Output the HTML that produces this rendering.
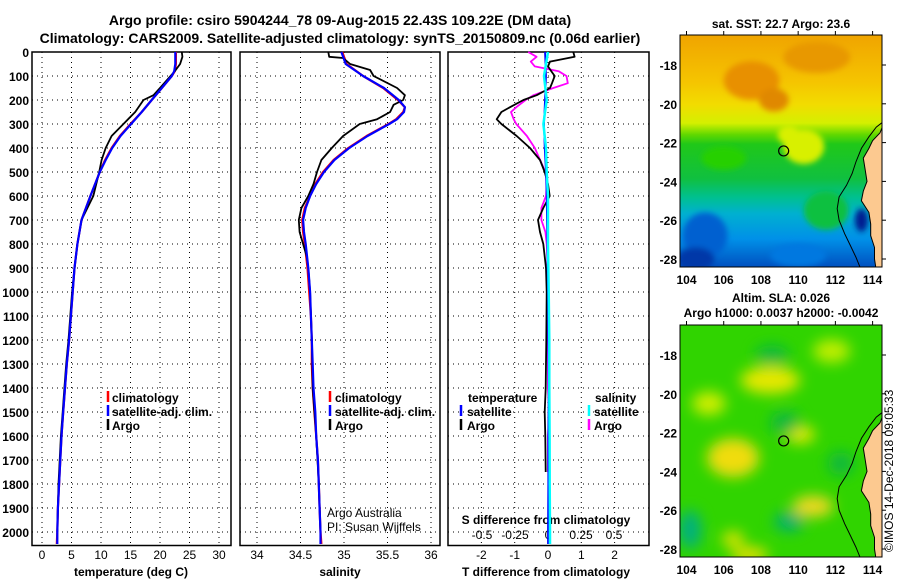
<!DOCTYPE html>
<html><head><meta charset="utf-8">
<style>
html,body{margin:0;padding:0;background:#fff;}
svg{display:block;font-family:"Liberation Sans",sans-serif;font-weight:bold;}
</style></head>
<body>
<svg id="fig" width="900" height="580" viewBox="0 0 900 580" xmlns="http://www.w3.org/2000/svg">
<defs>
<filter id="blur6" x="-50%" y="-50%" width="200%" height="200%"><feGaussianBlur stdDeviation="7"/></filter>
<filter id="blur3" x="-50%" y="-50%" width="200%" height="200%"><feGaussianBlur stdDeviation="3"/></filter>
<clipPath id="clipTop"><rect x="680" y="35" width="202" height="232"/></clipPath>
<clipPath id="clipBot"><rect x="680" y="325" width="202" height="232"/></clipPath>
<linearGradient id="sstGrad" x1="0" y1="0" x2="0" y2="1">
<stop offset="0" stop-color="#f0a400"/>
<stop offset="0.2" stop-color="#f5c400"/>
<stop offset="0.3" stop-color="#f2dc00"/>
<stop offset="0.38" stop-color="#d4f000"/>
<stop offset="0.43" stop-color="#60d800"/>
<stop offset="0.47" stop-color="#20c818"/>
<stop offset="0.62" stop-color="#10c040"/>
<stop offset="0.7" stop-color="#00c090"/>
<stop offset="0.77" stop-color="#00b0d0"/>
<stop offset="0.88" stop-color="#0090e8"/>
<stop offset="1" stop-color="#0050c0"/>
</linearGradient>
</defs>
<text x="340" y="25" text-anchor="middle" font-size="14">Argo profile: csiro 5904244_78 09-Aug-2015 22.43S 109.22E (DM data)</text>
<text x="340" y="43" text-anchor="middle" font-size="14">Climatology: CARS2009. Satellite-adjusted climatology: synTS_20150809.nc (0.06d earlier)</text>
<g id="plots"></g>
<g id="maps"></g>
<text transform="translate(893,552) rotate(-90)" font-size="12" font-weight="normal">©IMOS 14-Dec-2018 09:05:33</text>
</svg>
<script>
// ---- data ----
const depthsT = [0,20,50,80,100,150,200,250,300,350,400,450,500,600,700,800,900,1000,1100,1200,1300,1400,1500,1600,1700,1800,1900,2000,2050];
const climTemp = [22.7,22.7,22.7,22.5,22.0,20.3,18.6,16.9,15.0,13.2,11.8,10.7,9.8,8.2,6.7,6.0,5.5,5.2,4.9,4.6,4.2,3.9,3.6,3.3,3.1,2.9,2.7,2.6,2.5];
const satTemp  = [22.6,22.6,22.6,22.4,22.0,20.3,18.6,16.9,15.1,13.3,11.9,10.8,9.8,8.2,6.7,6.0,5.5,5.2,4.9,4.6,4.2,3.9,3.6,3.3,3.1,2.9,2.7,2.6,2.6];
const depthsArgo = [0,20,50,80,100,150,180,200,250,300,350,400,450,500,600,700,800,900,1000,1100,1200,1300,1400,1500,1600,1700,1800,1900,2000];
const argoTemp = [23.7,23.8,23.4,22.5,21.8,20.0,18.9,17.2,15.8,13.8,11.8,10.8,10.1,9.7,8.7,6.7,6.0,5.5,5.1,4.8,4.5,4.1,3.8,3.5,3.2,3.0,2.8,2.7,2.6];
const depthsS = [0,50,100,150,200,230,250,280,300,350,400,450,500,550,600,650,700,750,800,900,1000,1100,1200,1300,1400,1500,1600,1700,1800,1900,2000,2050];
const climSal = [34.98,35.03,35.22,35.45,35.62,35.70,35.68,35.60,35.51,35.26,35.05,34.88,34.76,34.67,34.61,34.55,34.52,34.53,34.55,34.58,34.60,34.62,34.63,34.63,34.64,34.66,34.68,34.70,34.71,34.72,34.73,34.74];
const satSal  = [34.97,35.02,35.22,35.46,35.63,35.70,35.69,35.61,35.52,35.27,35.06,34.89,34.77,34.68,34.61,34.56,34.53,34.54,34.56,34.59,34.61,34.62,34.63,34.64,34.65,34.67,34.68,34.70,34.71,34.72,34.73,34.73];
const depthsSA = [0,20,25,50,75,100,150,180,200,220,250,280,300,350,400,450,500,550,600,650,700,750,800,850,900,1000,1200,1400,1600,1800,2000];
const argoSal = [34.82,34.83,34.99,35.07,35.30,35.34,35.61,35.70,35.68,35.57,35.53,35.38,35.18,34.99,34.86,34.74,34.69,34.65,34.59,34.51,34.48,34.49,34.53,34.57,34.59,34.61,34.63,34.64,34.68,34.71,34.73];
const depthsD = [0,20,40,60,80,100,130,150,180,200,230,250,280,300,350,400,450,500,550,600,650,700,750,800,900,1000,1200,1400,1500,1600,1750];
const argoTdiff = [0.76,0.8,0.06,0.0,0.1,0.2,0.12,0.06,-0.34,-0.74,-1.14,-1.4,-1.54,-1.4,-0.94,-0.54,-0.24,-0.1,0.0,0.05,-0.14,-0.3,-0.24,-0.14,-0.06,-0.04,-0.05,-0.07,-0.1,-0.08,-0.07];
const argoSdiff = [-0.15,-0.086,-0.13,-0.1,0.08,0.14,0.15,0.04,-0.11,-0.17,-0.24,-0.28,-0.26,-0.24,-0.16,-0.1,-0.06,-0.02,-0.01,-0.015,-0.05,-0.05,-0.02,-0.01,0.0,0.0,0.0,0.0,0.01,0.0,0.0];
const depthsSat = [0,100,200,300,400,500,600,800,1000,1200,1400,1600,1800,2000,2050];
const satTdiff = [-0.09,-0.06,-0.09,-0.12,-0.1,-0.06,-0.04,-0.02,0.0,0.01,0.02,0.01,0.01,0.0,0.0];
const satSdiff = [0.0,-0.03,-0.01,-0.035,-0.015,-0.01,0.0,0.0,0.005,0.01,0.01,0.012,0.013,0.015,0.015];
const depthTicks = [0,100,200,300,400,500,600,700,800,900,1000,1100,1200,1300,1400,1500,1600,1700,1800,1900,2000];
const tempTicks = [0,5,10,15,20,25,30];
const salTicks = [34,34.5,35,35.5,36];
const tdiffTicks = [-2,-1,0,1,2];
const sdiffTicks = [-0.5,-0.25,0,0.25,0.5];
const lonTicks = [104,106,108,110,112,114];
const latTicks = [-18,-20,-22,-24,-26,-28];

const NS='http://www.w3.org/2000/svg';
const plots=document.getElementById('plots');
function el(tag,attrs,parent){const e=document.createElementNS(NS,tag);for(const k in attrs)e.setAttribute(k,attrs[k]);(parent||plots).appendChild(e);return e;}
const yD = d => 52 + d*0.24;
const xT = t => 42 + t*5.9;
const xS = s => 257 + (s-34)*87;
const xTd = t => 548 + t*33.3;
const xSd = s => 548 + s*132;
const PT=52, PB=545.5;

function panel(x0,x1,name,vticks,xf){
  for(const d of depthTicks){ if(d===0) continue;
    const g=el('line',{x1:x0,x2:x1,y1:yD(d),y2:yD(d),stroke:'#000','stroke-width':1,'stroke-dasharray':'1,4'});
    
    
  }
  for(const v of vticks){
    const g=el('line',{x1:xf(v),x2:xf(v),y1:PT,y2:PB,stroke:'#000','stroke-width':1,'stroke-dasharray':'1,4'});
    
    
  }
  const r=el('rect',{x:x0,y:PT,width:x1-x0,height:PB-PT,fill:'none',stroke:'#000','stroke-width':1.5});
  
  
}
function line(xs,ds,xf,color,name,w){
  const pts=xs.map((v,i)=>xf(v).toFixed(1)+','+yD(ds[i]).toFixed(1)).join(' ');
  const p=el('polyline',{points:pts,fill:'none',stroke:color,'stroke-width':w||2.2,'stroke-linejoin':'round'});
  
  
}
function txt(x,y,s,opts,name){
  const t=el('text',Object.assign({x:x,y:y,'font-size':12},opts||{}));
  t.textContent=s;
  
  
  return t;
}
function legendMark(x,y,color,name){
  const m=el('line',{x1:x,x2:x,y1:y-11,y2:y,stroke:color,'stroke-width':2.5});
  
  
}

panel(32,231,'temperature-panel',tempTicks,xT);
panel(240,440,'salinity-panel',salTicks,xS);
panel(448,649,'difference-panel',tdiffTicks,xTd);

for(const d of depthTicks){ txt(29,yD(d)+5,String(d),{'text-anchor':'end'},'depth-tick-label'); }
for(const v of tempTicks) txt(xT(v),559,String(v),{'text-anchor':'middle','font-weight':'normal'},'temperature-tick-label');
for(const v of salTicks) txt(xS(v),559,String(v),{'text-anchor':'middle','font-weight':'normal'},'salinity-tick-label');
for(const v of tdiffTicks) txt(xTd(v),559,String(v),{'text-anchor':'middle','font-weight':'normal'},'tdiff-tick-label');
for(const v of sdiffTicks) txt(xSd(v),539,String(v),{'text-anchor':'middle','font-weight':'normal'},'sdiff-tick-label');
txt(131,576,'temperature (deg C)',{'text-anchor':'middle'},'temperature-axis-title');
txt(340,576,'salinity',{'text-anchor':'middle'},'salinity-axis-title');
txt(546,576,'T difference from climatology',{'text-anchor':'middle'},'tdiff-axis-title');
txt(546,524,'S difference from climatology',{'text-anchor':'middle'},'sdiff-axis-title');

line(climTemp,depthsT,xT,'#ff0000','temp-climatology-line');
line(argoTemp,depthsArgo,xT,'#000000','temp-argo-line',1.8);
line(satTemp,depthsT,xT,'#0000ff','temp-satellite-line');
line(climSal,depthsS,xS,'#ff0000','sal-climatology-line');
line(argoSal,depthsSA,xS,'#000000','sal-argo-line',1.8);
line(satSal,depthsS,xS,'#0000ff','sal-satellite-line');
line(argoSdiff,depthsD,xSd,'#ff00ff','sdiff-argo-line',1.8);
line(argoTdiff,depthsD,xTd,'#000000','tdiff-argo-line',1.8);
line(satTdiff,depthsSat,xTd,'#0000ff','tdiff-satellite-line',1.8);
line(satSdiff,depthsSat,xSd,'#00ffff','sdiff-satellite-line',2.5);

const lg=[['climatology','#ff0000'],['satellite-adj. clim.','#0000ff'],['Argo','#000000']];
lg.forEach((e,i)=>{const y=402+i*14;
  legendMark(108,y,e[1],'temp-legend-mark');
  txt(112,y,e[0],{},'temp-legend-entry');
  legendMark(330,y,e[1],'sal-legend-mark');
  txt(335,y,e[0],{},'sal-legend-entry');
});
txt(468,402,'temperature',{},'diff-legend-temperature-header');
txt(595,402,'salinity',{},'diff-legend-salinity-header');
legendMark(461,416,'#0000ff','tdiff-sat-legend-mark'); txt(467,416,'satellite',{},'tdiff-sat-legend-entry');
legendMark(461,430,'#000000','tdiff-argo-legend-mark'); txt(467,430,'Argo',{},'tdiff-argo-legend-entry');
legendMark(589,416,'#00ffff','sdiff-sat-legend-mark'); txt(594,416,'satellite',{},'sdiff-sat-legend-entry');
legendMark(589,430,'#ff00ff','sdiff-argo-legend-mark'); txt(594,430,'Argo',{},'sdiff-argo-legend-entry');
txt(327,517,'Argo Australia',{'font-weight':'normal'},'credit-argo-australia');
txt(327,531,'PI: Susan Wijffels',{'font-weight':'normal'},'credit-pi');

// ---- maps ----
const maps=document.getElementById('maps');
const lonX = lo => 686.5 + (lo-104)*18.61;
function latY(top){ return la => top + 30 + (-18-la)*19.4; }
const argoLon = 109.22, argoLat = -22.43;
const coast = [[114.6,-21.0],[114.4,-21.5],[114.0,-21.9],[113.8,-22.3],[113.5,-22.8],[113.6,-23.4],[113.7,-24.0],[113.5,-24.5],[113.4,-25.0],[113.8,-25.6],[113.9,-26.2],[113.9,-26.8],[114.1,-27.4],[114.1,-28.0],[114.2,-28.6],[114.6,-28.6]];
const shelf = [[114.6,-20.9],[114.2,-21.2],[113.8,-21.7],[113.4,-22.3],[113.1,-23.0],[112.9,-23.6],[112.6,-24.2],[112.2,-24.8],[112.1,-25.4],[112.2,-26.0],[112.5,-26.7],[112.8,-27.3],[113.1,-27.9],[113.4,-28.6]];
const sstBlobs = [[107.5,-18.8,1.5,1.0,'#e89000'],[108.7,-19.8,0.8,0.6,'#e08800'],[111,-17.6,1.8,0.8,'#e89800'],[110.3,-22.2,1.1,0.9,'#d8f000'],[109.5,-21.6,0.6,0.5,'#d8f000'],[105,-26.8,1.2,1.2,'#0060d0'],[104.5,-28,1,0.6,'#0038a8'],[110,-27.8,1.5,0.6,'#0078e0'],[113.4,-26,0.35,0.6,'#001c90'],[106,-22.8,1.2,0.6,'#28d000'],[111.5,-25.5,1.2,1.0,'#10c040']];
const slaBlobs = [[106.5,-23.3,1.4,1.0,'#f0dc10'],[105.2,-20.5,0.9,0.6,'#d0ee00'],[108.5,-19.3,1.6,0.7,'#e6e800'],[110.1,-22.1,0.8,0.45,'#e6ea00'],[110.8,-25.8,1.1,0.55,'#f0d820'],[106.5,-27.5,0.6,0.4,'#e0e400'],[111.8,-17.8,1.0,0.6,'#c0ee00'],[104.2,-27,0.6,1,'#00b080'],[109.5,-26.6,0.8,0.5,'#00b070'],[108.6,-18,0.9,0.5,'#10b840'],[109.3,-21.5,0.8,0.6,'#10b840'],[112.3,-23.6,0.7,0.6,'#10b840'],[107.4,-28.3,1.0,0.4,'#e8e000']];

function mapPanel(top,clipId,kind,title1,title2){
  const ly=latY(top);
  const H=232;
  const g=document.createElementNS(NS,'g');
  g.setAttribute('clip-path','url(#'+clipId+')');
  
  
  maps.appendChild(g);
  el('rect',{x:680,y:top,width:202,height:H,fill: kind==='sst'?'url(#sstGrad)':'#30d400'},g);
  const bl=document.createElementNS(NS,'g');
  bl.setAttribute('filter', kind==='sst'?'url(#blur3)':'url(#blur6)');
  g.appendChild(bl);
  for(const b of (kind==='sst'?sstBlobs:slaBlobs)){
    const e=el('ellipse',{cx:lonX(b[0]),cy:ly(b[1]),rx:b[2]*18.6,ry:b[3]*19.4,fill:b[4]},bl);
    
    
  }
  const land=el('polygon',{points:coast.map(p=>lonX(p[0]).toFixed(1)+','+ly(p[1]).toFixed(1)).join(' '),fill:'#fcc990',stroke:'#000','stroke-width':1},g);
  
  
  const sh=el('polyline',{points:shelf.map(p=>lonX(p[0]).toFixed(1)+','+ly(p[1]).toFixed(1)).join(' '),fill:'none',stroke:'#000','stroke-width':1},g);
  
  
  const c=el('circle',{cx:lonX(argoLon),cy:ly(argoLat),r:5,fill:'none',stroke:'#000','stroke-width':1.2},maps);
  
  
  const fr=el('rect',{x:680,y:top,width:202,height:H,fill:'none',stroke:'#000','stroke-width':1},maps);
  
  
  for(const lo of lonTicks){
    const t=el('text',{x:lonX(lo),y:top+H+17,'text-anchor':'middle','font-size':12},maps); t.textContent=String(lo);
    
    
    el('line',{x1:lonX(lo),x2:lonX(lo),y1:top,y2:top-4,stroke:'#000'},maps);
  }
  for(const la of latTicks){
    const t=el('text',{x:677,y:ly(la)+5,'text-anchor':'end','font-size':12},maps); t.textContent=String(la);
    
    
    el('line',{x1:882,x2:886,y1:ly(la),y2:ly(la),stroke:'#000'},maps);
  }
  const t1=el('text',{x:781,y:top-(title2?23:7),'text-anchor':'middle','font-size':12},maps); t1.textContent=title1;
  
  
  if(title2){const t2=el('text',{x:781,y:top-8,'text-anchor':'middle','font-size':12},maps); t2.textContent=title2;
    
    }
}
mapPanel(35,'clipTop','sst','sat. SST: 22.7 Argo: 23.6',null);
mapPanel(325,'clipBot','sla','Altim. SLA: 0.026','Argo h1000: 0.0037 h2000: -0.0042');
</script>
</body></html>
